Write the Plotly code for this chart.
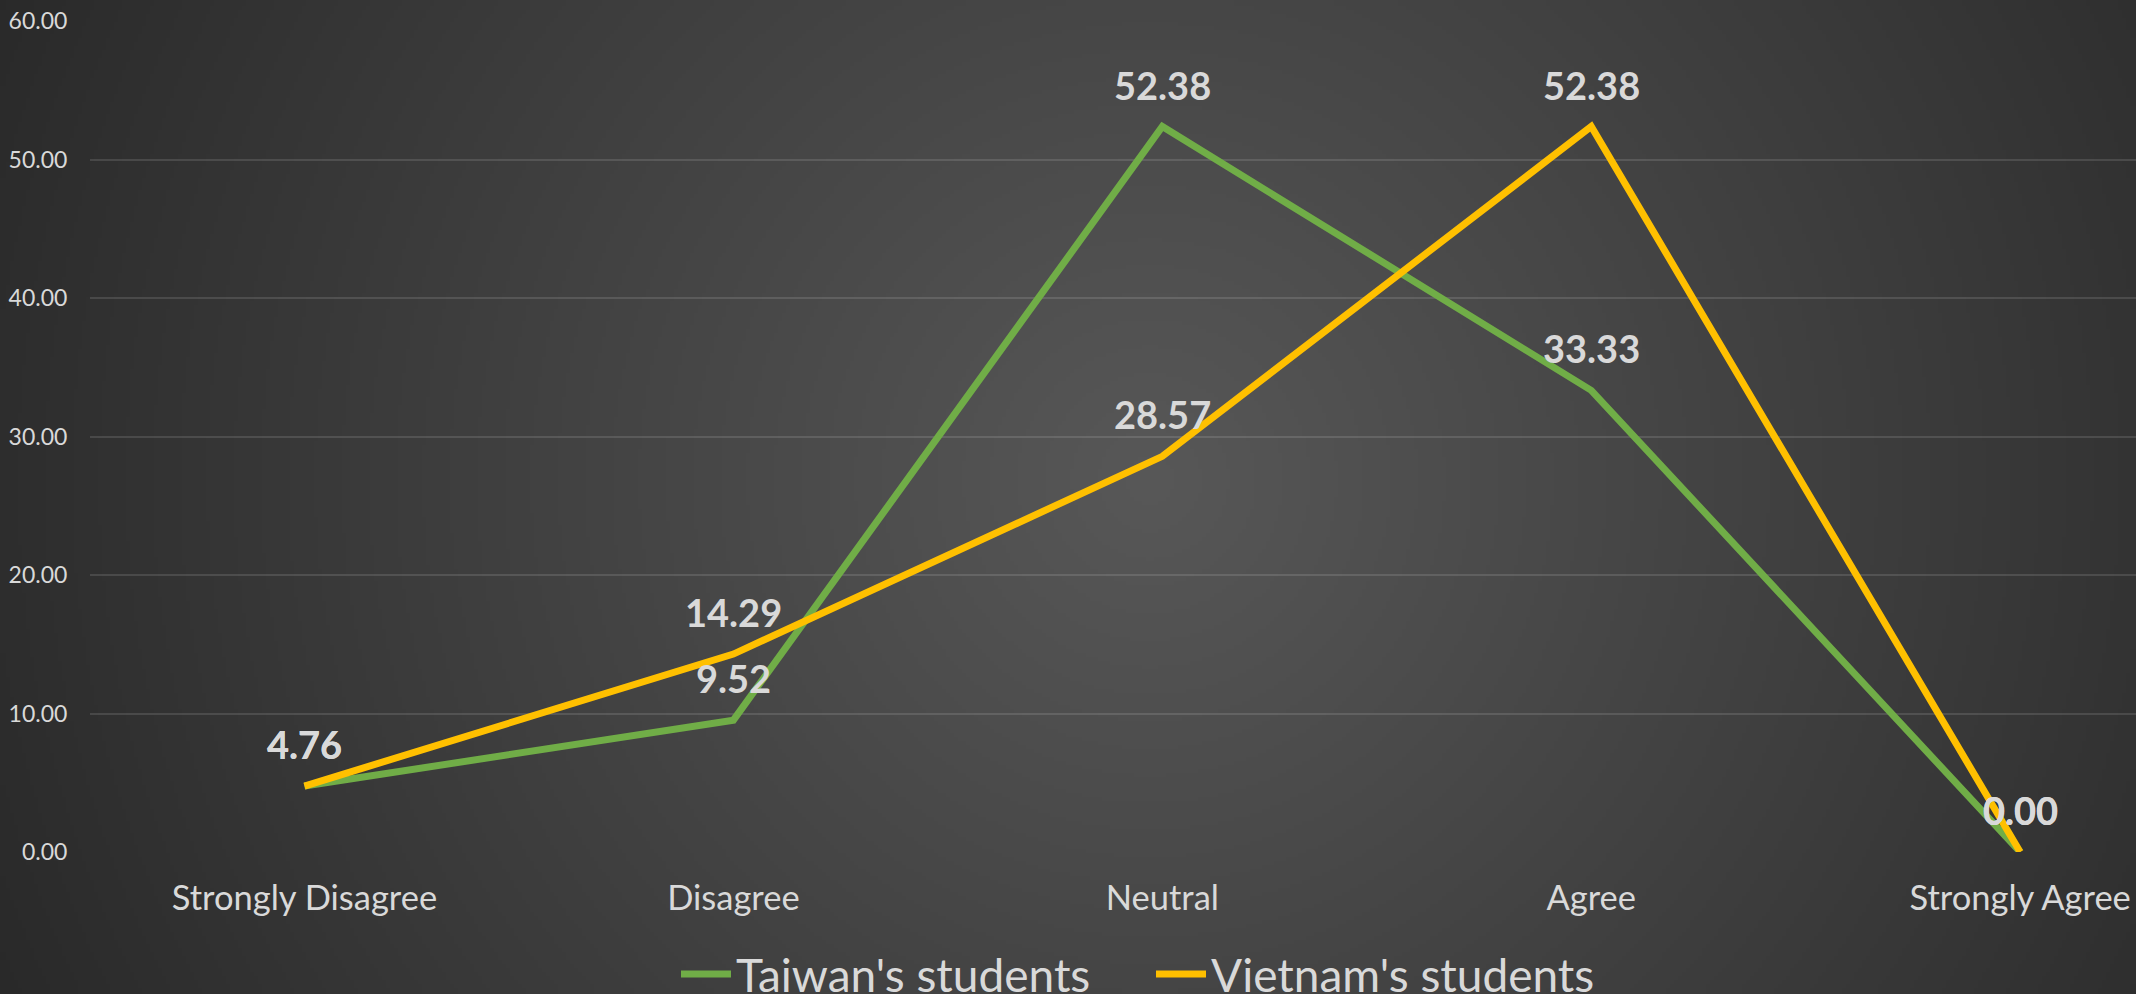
import base64
import struct
import zlib

import numpy as np
import plotly.graph_objects as go

# ---- data ----
categories = ["Strongly Disagree", "Disagree", "Neutral", "Agree", "Strongly Agree"]
taiwan = [4.76, 9.52, 52.38, 33.33, 0.00]
vietnam = [4.76, 14.29, 28.57, 52.38, 0.00]
series_names = ["Taiwan's students", "Vietnam's students"]
y_ticks = [0, 10, 20, 30, 40, 50, 60]

GREEN = "#70ad47"
GOLD = "#ffc000"
TEXT = "#d9d9d9"
FONT = "Lato, Carlito, Calibri, 'Open Sans', sans-serif"

W, H = 2136, 994
ML, MR, MT, MB = 90, 0, 21, 142


def gradient_png(w, h, full_w, full_h, cx, cy, center_val, fall_px, min_val):
    ys, xs = np.mgrid[0:h, 0:w]
    fx = (xs + 0.5) * full_w / w
    fy = (ys + 0.5) * full_h / h
    d = np.sqrt((fx - cx) ** 2 + (fy - cy) ** 2)
    v = np.clip(center_val - d / fall_px, min_val, center_val).astype(np.uint8)
    img = np.repeat(v[..., None], 3, axis=2)
    raw = b"".join(b"\x00" + img[y].tobytes() for y in range(h))

    def chunk(tag, data):
        return struct.pack(">I", len(data)) + tag + data + struct.pack(">I", zlib.crc32(tag + data) & 0xFFFFFFFF)

    png = b"\x89PNG\r\n\x1a\n" + chunk(b"IHDR", struct.pack(">IIBBBBB", w, h, 8, 2, 0, 0, 0))
    png += chunk(b"IDAT", zlib.compress(raw, 9)) + chunk(b"IEND", b"")
    return "data:image/png;base64," + base64.b64encode(png).decode()


bg = gradient_png(534, 249, W, H, 1150, 480, 88, 27, 38)

x_idx = list(range(len(categories)))
fig = go.Figure()
for name, vals, col in [(series_names[0], taiwan, GREEN), (series_names[1], vietnam, GOLD)]:
    fig.add_trace(go.Scatter(
        x=x_idx, y=vals, name=name, mode="lines",
        line=dict(color=col, width=7),
        hoverinfo="skip",
    ))

annotations = []
for vals in (taiwan, vietnam):
    for xi, v in zip(x_idx, vals):
        annotations.append(dict(
            x=xi, y=v, xref="x", yref="y", text=f"{v:.2f}", showarrow=False,
            yshift=42, font=dict(family=FONT, size=38, color=TEXT, weight="bold"),
        ))

pw = W - ML - MR
ph = H - MT - MB
fig.update_layout(
    width=W, height=H,
    margin=dict(l=ML, r=MR, t=MT, b=MB, autoexpand=False),
    paper_bgcolor="#2b2b2b",
    plot_bgcolor="rgba(0,0,0,0)",
    font=dict(family=FONT, color=TEXT),
    annotations=annotations,
    images=[dict(
        source=bg, xref="paper", yref="paper",
        x=-ML / pw, y=1 + MT / ph, sizex=W / pw, sizey=H / ph,
        xanchor="left", yanchor="top", sizing="stretch", layer="below",
    )],
    showlegend=True,
    legend=dict(
        orientation="h", xanchor="left", yanchor="middle",
        x=(676 - ML) / pw, y=(MT + ph - 974) / ph,
        font=dict(family=FONT, size=46, color=TEXT),
        bgcolor="rgba(0,0,0,0)",
        entrywidth=410, entrywidthmode="pixels",
        itemwidth=50,
    ),
    xaxis=dict(
        range=[-0.5, 4.27],
        tickvals=x_idx, ticktext=categories,
        tickfont=dict(family=FONT, size=34.5, color=TEXT),
        showgrid=False, zeroline=False, showline=False,
        ticks="outside", ticklen=16, tickcolor="rgba(0,0,0,0)",
        automargin=False,
    ),
    yaxis=dict(
        range=[0, 60],
        tickvals=y_ticks, ticktext=[f"{t:.2f}" for t in y_ticks],
        tickfont=dict(family=FONT, size=23, color=TEXT),
        showgrid=True, gridcolor="rgba(255,255,255,0.12)", gridwidth=2,
        zeroline=False, showline=False,
        ticks="outside", ticklen=17, tickcolor="rgba(0,0,0,0)",
        automargin=False,
    ),
    hovermode=False,
)

fig.write_html(
    "out.html",
    config={"displayModeBar": False},
    post_script=(
        "document.body.style.margin='0';"
        "document.body.style.overflow='hidden';"
        "document.body.style.background='#2b2b2b';"
    ),
)
